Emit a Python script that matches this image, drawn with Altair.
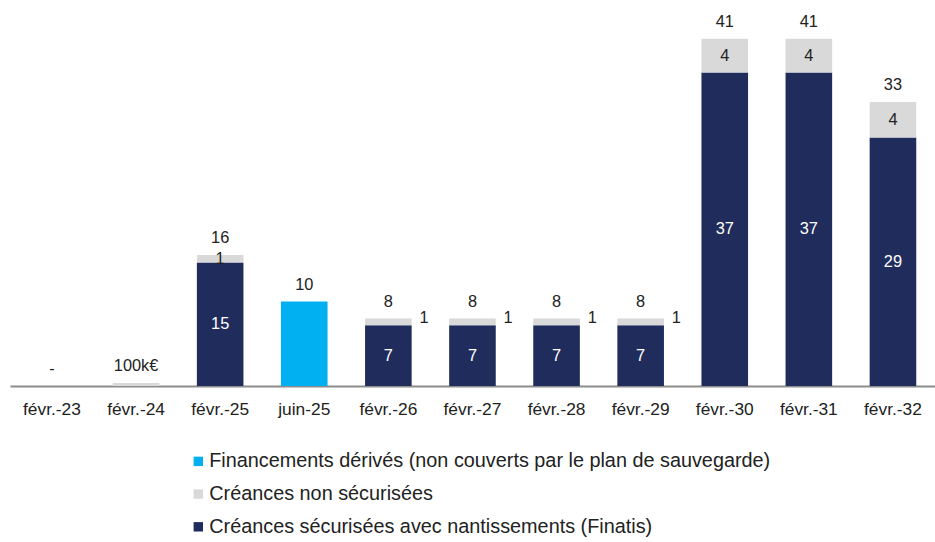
import altair as alt
import pandas as pd

categories = ["févr.-23", "févr.-24", "févr.-25", "juin-25", "févr.-26", "févr.-27",
              "févr.-28", "févr.-29", "févr.-30", "févr.-31", "févr.-32"]
series_names = ["Financements dérivés (non couverts par le plan de sauvegarde)",
                "Créances non sécurisées",
                "Créances sécurisées avec nantissements (Finatis)"]
colors = ["#00B0F0", "#D9D9D9", "#1F2C5C"]

secured = [0, 0, 14.6, 0, 7.2, 7.2, 7.2, 7.2, 37.1, 37.1, 29.4]
unsecured = [0, 0.35, 0.9, 0, 0.8, 0.8, 0.8, 0.8, 4.0, 4.0, 4.2]
derived = [0, 0, 0, 10.0, 0, 0, 0, 0, 0, 0, 0]

secured_labels = ["", "", "15", "", "7", "7", "7", "7", "37", "37", "29"]
unsecured_labels = ["", "", "1", "", "1", "1", "1", "1", "4", "4", "4"]
derived_labels = ["", "", "", "", "", "", "", "", "", "", ""]
total_labels = ["-", "100k€", "16", "10", "8", "8", "8", "8", "41", "41", "33"]
outside_label_cats = ["févr.-26", "févr.-27", "févr.-28", "févr.-29"]

FONT = "Liberation Sans"

rows = []
for i, c in enumerate(categories):
    base = 0.0
    for s, vals, labs, tc in [
        (series_names[2], secured, secured_labels, "white"),
        (series_names[1], unsecured, unsecured_labels, "#222222"),
        (series_names[0], derived, derived_labels, "#222222"),
    ]:
        v = vals[i]
        rows.append(dict(cat=c, series=s, y0=base, y1=base + v, mid=base + v / 2,
                         label=labs[i], tcolor=tc,
                         outside=(s == series_names[1] and c in outside_label_cats)))
        base += v
df = pd.DataFrame(rows)

tot = pd.DataFrame(dict(cat=categories,
                        total=[a + b + d for a, b, d in zip(secured, unsecured, derived)],
                        label=total_labels))

x = alt.X("cat:N", sort=categories, title=None,
          scale=alt.Scale(paddingInner=0.446, paddingOuter=0.223),
          axis=alt.Axis(labelAngle=0, labelFont=FONT, labelFontSize=17.5, labelColor="#222222",
                        labelPadding=15, ticks=False, domainColor="#8C8C8C", domainWidth=2))
yscale = alt.Scale(domain=[0, 45.4], nice=False, zero=True)

bars = alt.Chart(df).mark_bar().encode(
    x=x,
    y=alt.Y("y0:Q", scale=yscale, axis=None),
    y2="y1:Q",
    color=alt.Color("series:N", scale=alt.Scale(domain=series_names, range=colors),
                    sort=series_names,
                    legend=alt.Legend(title=None, orient="none", legendX=180, legendY=453,
                                      direction="vertical", symbolType="square",
                                      symbolSize=90, symbolStrokeWidth=0,
                                      labelFont=FONT, labelFontSize=20, labelColor="#222222",
                                      labelLimit=800, rowPadding=13, labelOffset=1)),
)

inside = alt.Chart(df).transform_filter("datum.label != '' && !datum.outside").mark_text(
    font=FONT, fontSize=16.5, baseline="middle"
).encode(
    x=alt.X("cat:N", sort=categories),
    y=alt.Y("mid:Q", scale=yscale),
    text="label:N",
    color=alt.Color("tcolor:N", scale=None),
)

outside = alt.Chart(df).transform_filter("datum.outside").mark_text(
    font=FONT, fontSize=16.5, baseline="middle", dx=36, dy=0, color="#222222"
).encode(
    x=alt.X("cat:N", sort=categories),
    y=alt.Y("y1:Q", scale=yscale),
    text="label:N",
)

totals = alt.Chart(tot).mark_text(
    font=FONT, fontSize=16.5, baseline="bottom", dy=-9, color="#222222"
).encode(
    x=alt.X("cat:N", sort=categories),
    y=alt.Y("total:Q", scale=yscale),
    text="label:N",
)

chart = alt.layer(bars, inside, outside, totals).properties(
    width=933, height=387,
    padding={"left": 10, "top": 0, "right": 0, "bottom": 155},
    autosize=alt.AutoSizeParams(type="none"),
).configure(background="white").configure_view(stroke=None)

chart.save("out.html", embed_options={"renderer": "svg", "actions": False})
